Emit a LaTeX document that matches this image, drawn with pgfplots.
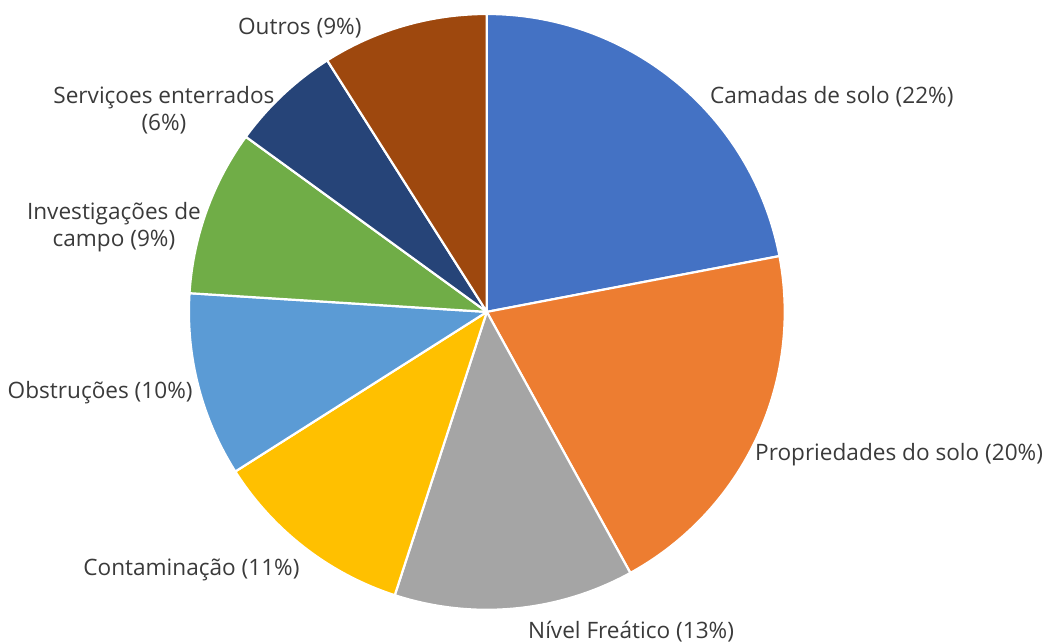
\documentclass[border=0pt]{standalone}
\usepackage{fontspec}
\setmainfont{Open Sans}
\usepackage{pgfplots}
\pgfplotsset{compat=1.18}
\definecolor{c1}{HTML}{4472C4}
\definecolor{c2}{HTML}{ED7D31}
\definecolor{c3}{HTML}{A5A5A5}
\definecolor{c4}{HTML}{FFC000}
\definecolor{c5}{HTML}{5B9BD5}
\definecolor{c6}{HTML}{70AD47}
\definecolor{c7}{HTML}{264478}
\definecolor{c8}{HTML}{9E480E}
\definecolor{txt}{HTML}{3A3A3A}
\newcommand\lf{\fontsize{11.3}{13.6}\selectfont}
% slice: #1 = cumulative percent before the slice, #2 = slice percent, #3 = colour
\newcommand\slice[3]{%
  \addplot[fill=#3, draw=white, line width=1.1pt, line join=round,
    domain={90-3.6*(#1+#2)}:{90-3.6*(#1)}, samples=80, variable=\t]
    ({487+298*cos(\t)},{331+298*sin(\t)}) -- (axis cs:487,331) -- cycle;}
\begin{document}
\begin{tikzpicture}
\begin{axis}[
  width=521.5pt, height=321.5pt, scale only axis,
  xmin=0, xmax=1043, ymin=0, ymax=643,
  hide axis, clip=false,
]
\path (axis cs:0,0) rectangle (axis cs:1043,643);
\slice{0}{22}{c1}
\slice{22}{20}{c2}
\slice{42}{13}{c3}
\slice{55}{11}{c4}
\slice{66}{10}{c5}
\slice{76}{9}{c6}
\slice{85}{6}{c7}
\slice{91}{9}{c8}
\begin{scope}[every node/.style={font=\lf, text=txt, inner sep=0pt}]
\node[anchor=west] at (axis cs:710,546) {Camadas de solo (22\%)};
\node[anchor=west] at (axis cs:755,188) {Propriedades do solo (20\%)};
\node[anchor=west] at (axis cs:528,11) {Nível Freático (13\%)};
\node[anchor=east] at (axis cs:300,73) {Contaminação (11\%)};
\node[anchor=east] at (axis cs:193,250) {Obstruções (10\%)};
\node[align=center] at (axis cs:114,416) {Investigações de\\campo (9\%)};
\node[align=center] at (axis cs:164,533) {Serviçoes enterrados\\(6\%)};
\node[anchor=east] at (axis cs:362,615) {Outros (9\%)};
\end{scope}
\end{axis}
\end{tikzpicture}
\end{document}
